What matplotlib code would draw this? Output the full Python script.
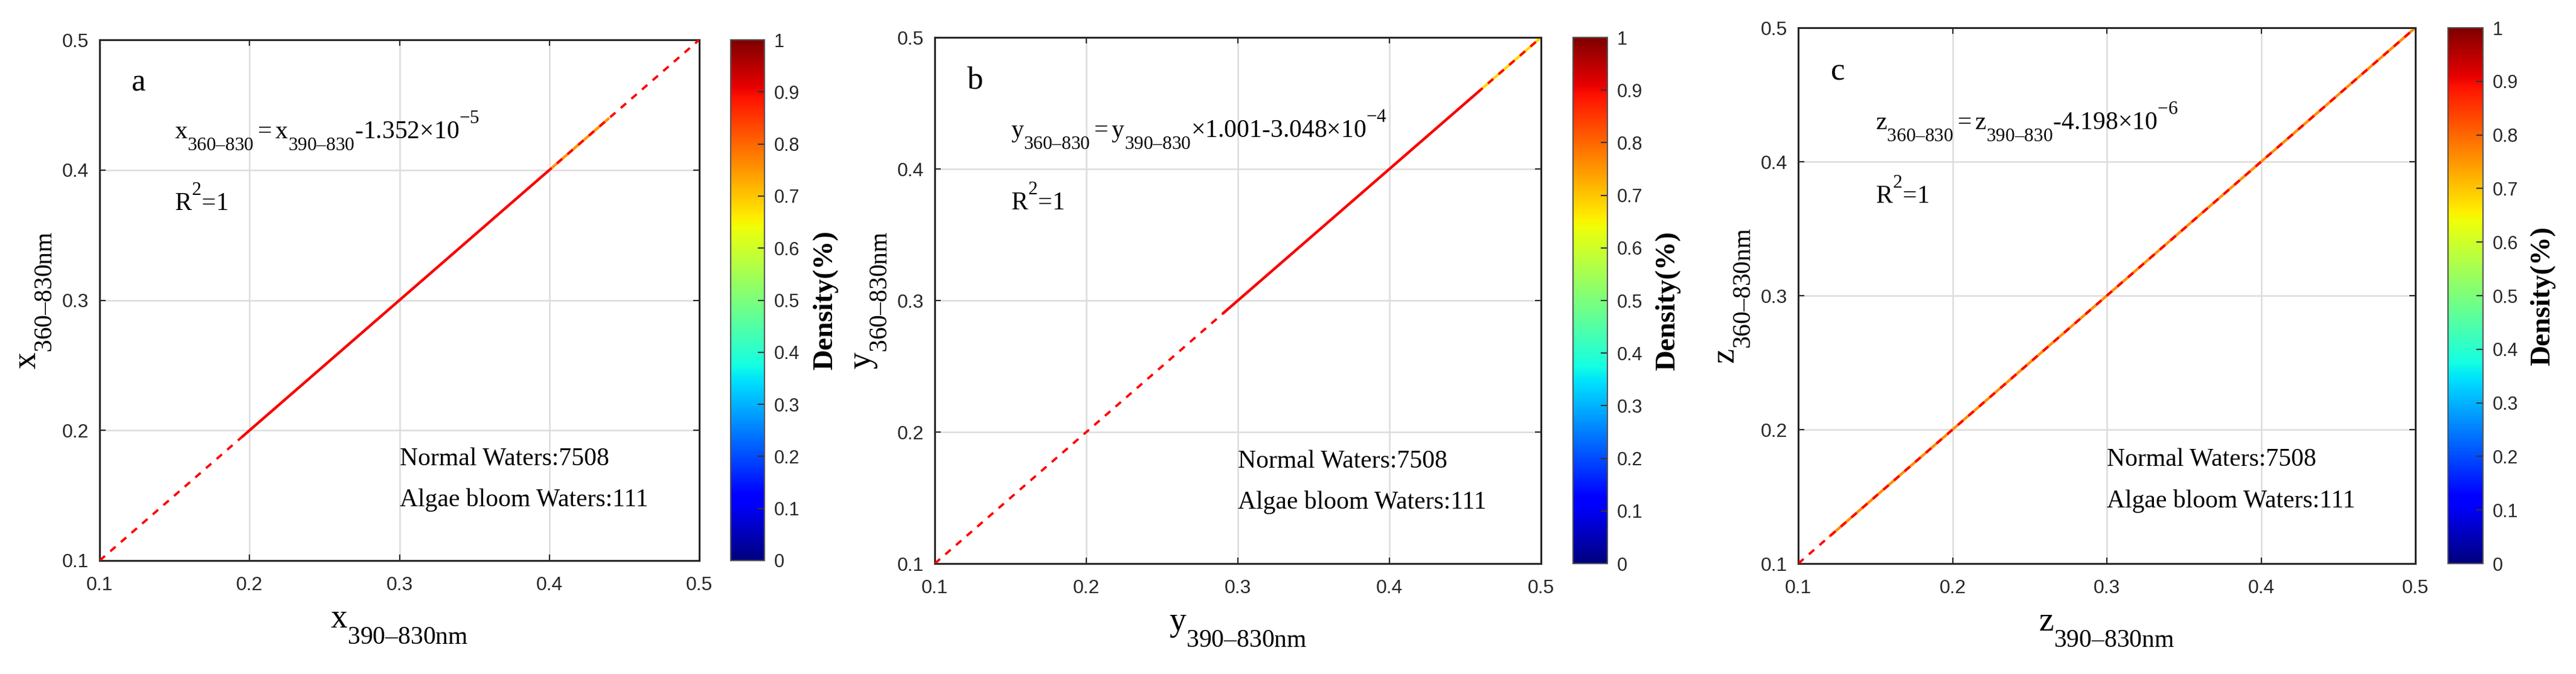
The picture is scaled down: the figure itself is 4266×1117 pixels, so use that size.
import matplotlib
matplotlib.use("Agg")
import matplotlib.pyplot as plt
import matplotlib._mathtext as mathtext_internal
from matplotlib import cm, colors

plt.rcParams["font.family"] = ["Liberation Sans", "DejaVu Sans"]
plt.rcParams["mathtext.fontset"] = "custom"
plt.rcParams["mathtext.rm"] = "Liberation Serif"
plt.rcParams["mathtext.it"] = "Liberation Serif:italic"
plt.rcParams["mathtext.bf"] = "Liberation Serif:bold"

# MATLAB-like tex: bigger scripts, subscripts fully below the baseline,
# superscripts sitting on top of the capitals
mathtext_internal.SHRINK_FACTOR = 0.75
mathtext_internal.FontConstantsBase.sub1 = 1.05
mathtext_internal.FontConstantsBase.sup1 = 1.35

# ----------
# data
# ----------
panel_letters = ["a", "b", "c"]
x_labels = [r"$\mathrm{x}_{\mathrm{390–830nm}}$",
            r"$\mathrm{y}_{\mathrm{390–830nm}}$",
            r"$\mathrm{z}_{\mathrm{390–830nm}}$"]
y_labels = [r"$\mathrm{x}_{\mathrm{360–830nm}}$",
            r"$\mathrm{y}_{\mathrm{360–830nm}}$",
            r"$\mathrm{z}_{\mathrm{360–830nm}}$"]
equations = [
    r"$\mathrm{x}_{\mathrm{360–830}} = \mathrm{x}_{\mathrm{390–830}}$-1.352×10$^{-5}$",
    r"$\mathrm{y}_{\mathrm{360–830}} = \mathrm{y}_{\mathrm{390–830}}$×1.001-3.048×10$^{-4}$",
    r"$\mathrm{z}_{\mathrm{360–830}} = \mathrm{z}_{\mathrm{390–830}}$-4.198×10$^{-6}$",
]
r2_values = ["1", "1", "1"]
n_normal = 7508
n_algae = 111

axis_ticks = [0.1, 0.2, 0.3, 0.4, 0.5]
cbar_ticks = [0, 0.1, 0.2, 0.3, 0.4, 0.5, 0.6, 0.7, 0.8, 0.9, 1]
cbar_labels = ["0", "0.1", "0.2", "0.3", "0.4", "0.5",
               "0.6", "0.7", "0.8", "0.9", "1"]
fit_line = [0.1, 0.5]

# dense parts of the scatter along the 1:1 line: (start, end, density)
dense_a = [(0.195, 0.40, 0.9), (0.40, 0.44, 0.75)]
dense_b = [(0.29, 0.46, 0.9), (0.46, 0.50, 0.68)]
dense_c = [(0.12, 0.50, 0.76)]
dense_parts = [dense_a, dense_b, dense_c]

# ----------
# layout (pixels of the 4266 x 1117 figure)
# ----------
FIG_W, FIG_H = 4266, 1117
axes_px = [(165, 66, 1158, 929), (1548, 62, 2552, 934), (2978, 46, 4000, 934)]
cbar_px = [(1210, 1266), (2605, 2662), (4054, 4112)]


def px_rect(l, t, r, b):
    return [l / FIG_W, 1 - b / FIG_H, (r - l) / FIG_W, (b - t) / FIG_H]


fig = plt.figure(figsize=(FIG_W / 100, FIG_H / 100), dpi=100)
jet = plt.get_cmap("jet")
serif = "Liberation Serif"

for i in range(3):
    l, t, r, b = axes_px[i]
    ax = fig.add_axes(px_rect(l, t, r, b))
    ax.set_xlim(0.1, 0.5)
    ax.set_ylim(0.1, 0.5)
    ax.set_xticks(axis_ticks)
    ax.set_yticks(axis_ticks)
    ax.set_xticklabels([f"{v:g}" for v in axis_ticks])
    ax.set_yticklabels([f"{v:g}" for v in axis_ticks])
    ax.grid(True, color="#dcdcdc", lw=1.8)
    ax.set_axisbelow(True)

    for s, e, d in dense_parts[i]:
        ax.plot([s, e], [s, e], color=jet(d), lw=3.2,
                solid_capstyle="butt", zorder=2)
    ax.plot(fit_line, fit_line, color="red", ls=(0, (3, 3)), lw=2.8, zorder=3)

    ax.tick_params(direction="in", top=True, right=True, length=7, width=1.5,
                   labelsize=23, labelcolor="#262626", color="#262626")
    ax.tick_params(axis="x", pad=19)
    ax.tick_params(axis="y", pad=13)
    for sp in ax.spines.values():
        sp.set_linewidth(2.2)
        sp.set_color("#262626")

    ax.text(0.121, 0.467, panel_letters[i], fontsize=38, family=serif,
            ha="left", va="center")
    ax.text(0.15, 0.424, equations[i], fontsize=30, family=serif,
            ha="left", va="baseline")
    ax.text(0.15, 0.369, "R$^{2}$=" + r2_values[i], fontsize=30, family=serif,
            ha="left", va="baseline")
    ax.text(0.3, 0.1728, f"Normal Waters:{n_normal}", fontsize=30,
            family=serif, ha="left", va="baseline")
    ax.text(0.3, 0.1417, f"Algae bloom Waters:{n_algae}", fontsize=30,
            family=serif, ha="left", va="baseline")

    ax.set_xlabel(x_labels[i], fontsize=40)
    ax.set_ylabel(y_labels[i], fontsize=40)
    ax.xaxis.set_label_coords(0.5, -83 / (b - t))
    ax.yaxis.set_label_coords(-77 / (r - l), 0.5)

    # colorbar
    cl, cr = cbar_px[i]
    cax = fig.add_axes(px_rect(cl, t, cr, b))
    sm = cm.ScalarMappable(norm=colors.Normalize(0, 1), cmap=jet)
    cb = fig.colorbar(sm, cax=cax, ticks=cbar_ticks)
    cb.ax.set_yticklabels(cbar_labels)
    cb.outline.set_edgecolor("#555555")
    cb.outline.set_linewidth(1.5)
    cax.tick_params(direction="in", length=8, width=1.5, labelsize=22,
                    pad=11.5, color="#333333", labelcolor="#262626")
    cax.text((1367 - 1210) / (cr - cl), 0.5, "Density(%)",
             transform=cax.transAxes, rotation=90, ha="center", va="center",
             fontsize=34, fontweight="bold", family=serif)

fig.savefig("out.png", dpi=100)
